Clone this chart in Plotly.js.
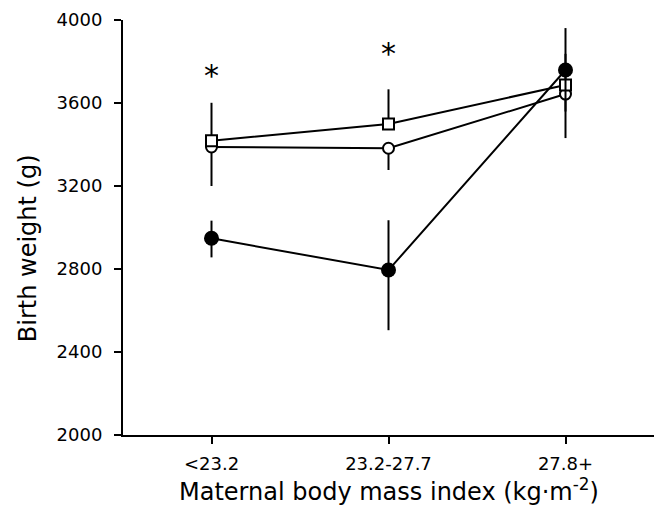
<!DOCTYPE html>
<html>
<head>
<meta charset="utf-8">
<script src="https://cdn.plot.ly/plotly-3.0.1.min.js"></script>
<style>html,body{margin:0;padding:0;background:#fff;}#chart{width:654px;height:505px;}</style>
</head>
<body>
<div id="chart"></div>
<script>
// Categories (maternal BMI groups)
const categories = ["<23.2", "23.2-27.7", "27.8+"];
const xIndex = [0, 1, 2];

// Filled circles
const filledMean = [2948, 2795, 3759];
const filledErrPlus = [85, 240, 202];
const filledErrMinus = [92, 290, 200];

// Open circles (error bars downward)
const openMean = [3388, 3382, 3643];
const openErrPlus = [0, 0, 0];
const openErrMinus = [188, 105, 212];

// Open squares (error bars upward)
const squareMean = [3418, 3499, 3687];
const squareErrPlus = [183, 167, 150];
const squareErrMinus = [0, 0, 0];

// Significance markers
const starX = [0, 1];
const starY = [3746, 3855];

const yTicks = [2000, 2400, 2800, 3200, 3600, 4000];
const yTitle = "Birth weight (g)";
const xTitle = "Maternal body mass index (kg·m<sup>-2</sup>)";

const common = {
  type: "scatter",
  mode: "lines+markers",
  x: xIndex,
  line: {color: "#000", width: 2},
  showlegend: false,
  hoverinfo: "skip"
};

const traces = [
  Object.assign({}, common, {
    y: openMean,
    error_y: {type: "data", symmetric: false, array: openErrPlus, arrayminus: openErrMinus, color: "#000", thickness: 2, width: 0},
    marker: {symbol: "circle", size: 11, color: "#fff", line: {color: "#000", width: 2}}
  }),
  Object.assign({}, common, {
    y: squareMean,
    error_y: {type: "data", symmetric: false, array: squareErrPlus, arrayminus: squareErrMinus, color: "#000", thickness: 2, width: 0},
    marker: {symbol: "square", size: 11, color: "#fff", line: {color: "#000", width: 2}}
  }),
  Object.assign({}, common, {
    y: filledMean,
    error_y: {type: "data", symmetric: false, array: filledErrPlus, arrayminus: filledErrMinus, color: "#000", thickness: 2, width: 0},
    marker: {symbol: "circle", size: 15, color: "#000", line: {color: "#000", width: 0}}
  })
];

const annotations = starX.map((x, i) => ({
  x: x, y: starY[i], xref: "x", yref: "y",
  text: "*", showarrow: false,
  font: {family: "DejaVu Sans", size: 30, color: "#000"},
  xanchor: "center", yanchor: "middle", yshift: -3
}));

// axis titles drawn as annotations for precise placement
annotations.push({
  xref: "paper", yref: "paper", x: 0, y: 0.45,
  xanchor: "center", yanchor: "middle", xshift: -95,
  textangle: -90, showarrow: false,
  text: yTitle, font: {family: "DejaVu Sans", size: 24, color: "#000"}
});
annotations.push({
  xref: "paper", yref: "paper", x: 0.5, y: 0,
  xanchor: "center", yanchor: "middle", yshift: -55,
  showarrow: false,
  text: xTitle, font: {family: "DejaVu Sans", size: 24, color: "#000"}
});

const layout = {
  width: 654, height: 505,
  margin: {l: 123, r: 0, t: 20, b: 70},
  paper_bgcolor: "#fff", plot_bgcolor: "#fff",
  font: {family: "DejaVu Sans", color: "#000", size: 18},
  xaxis: {
    range: [-0.5, 2.5],
    tickmode: "array", tickvals: xIndex, ticktext: categories,
    showgrid: false, zeroline: false,
    showline: true, linecolor: "#000", linewidth: 2,
    ticks: "outside", ticklen: 7, tickwidth: 2, tickcolor: "#000",
    tickfont: {size: 18},
    ticklabelstandoff: 4,
    fixedrange: true
  },
  yaxis: {
    range: [2000, 4000],
    tickmode: "array", tickvals: yTicks,
    showgrid: false, zeroline: false,
    showline: true, linecolor: "#000", linewidth: 2,
    ticks: "outside", ticklen: 7, tickwidth: 2, tickcolor: "#000",
    tickfont: {size: 18},
    ticklabelstandoff: 8,
    fixedrange: true
  },
  annotations: annotations
};

Plotly.newPlot("chart", traces, layout, {staticPlot: true, displayModeBar: false});
</script>
</body>
</html>
